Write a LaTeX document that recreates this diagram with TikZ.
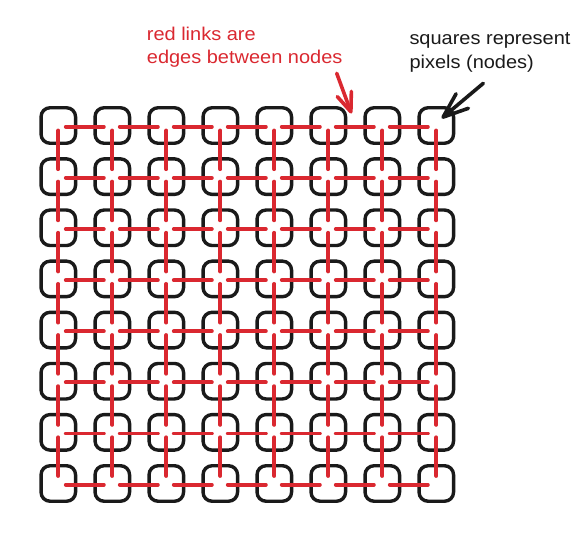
\documentclass[tikz,border=0pt]{standalone}
\usepackage{fontspec}
\newfontfamily\lbl[FakeStretch=1.08]{Liberation Sans}
\usetikzlibrary{arrows.meta}
\definecolor{linkred}{RGB}{218,40,48}
\definecolor{ink}{RGB}{26,26,26}
\begin{document}
\begin{tikzpicture}[x=1pt,y=-1pt,
  pixel/.style={draw=ink, line width=3.4pt, rounded corners=9pt, minimum width=34.5pt, minimum height=35.5pt, inner sep=0pt},
  hlink/.style={draw=linkred, line width=3.9pt, line cap=round, shorten <=7.5pt, shorten >=8.5pt},
  vlink/.style={draw=linkred, line width=3.9pt, line cap=round, shorten <=5pt, shorten >=7.5pt},
  note/.style={inner sep=0pt, anchor=base west},
  pointer/.style={line width=3.6pt, line cap=round}]
\useasboundingbox (0,0) rectangle (588,532);
% pixels (nodes)
\foreach \r in {0,...,7}{
  \foreach \c in {0,...,7}{
    \node[pixel] (p\r\c) at ({58.3+54*\c},{125.5+51.14*\r}) {};
  }
}
% horizontal edges
\foreach \r in {0,...,7}{
  \foreach \c in {0,...,6}{
    \pgfmathtruncatemacro\cn{\c+1}
    \draw[hlink] ([yshift=-1.2pt]p\r\c.center) -- ([yshift=-1.2pt]p\r\cn.center);
  }
}
% vertical edges
\foreach \r in {0,...,6}{
  \pgfmathtruncatemacro\rn{\r+1}
  \foreach \c in {0,...,7}{
    \draw[vlink] (p\r\c.center) -- (p\rn\c.center);
  }
}
% labels
\node[note, text=linkred] (redtxt) at (146.7,41)
  {\lbl\fontsize{18.5}{22.3}\selectfont\vtop{\hbox{red links are}\hbox{edges between nodes}}};
\node[note, text=ink] (blktxt) at (409.3,45)
  {\lbl\fontsize{18.5}{23.3}\selectfont\vtop{\hbox{squares represent}\hbox{pixels (nodes)}}};
% pointers
\coordinate (redtail) at (336.7,73.3);
\coordinate (redtip) at (351.5,113.5);
\coordinate (blktail) at (483.3,83.3);
\coordinate (blktip) at (441.7,118.3);
\draw[pointer, linkred, -{Straight Barb[length=19pt,width=15pt,round]}] (redtail) -- (redtip);
\draw[pointer, ink, -{Straight Barb[length=25pt,width=19pt,round]}] (blktail) -- (blktip);
\end{tikzpicture}
\end{document}
